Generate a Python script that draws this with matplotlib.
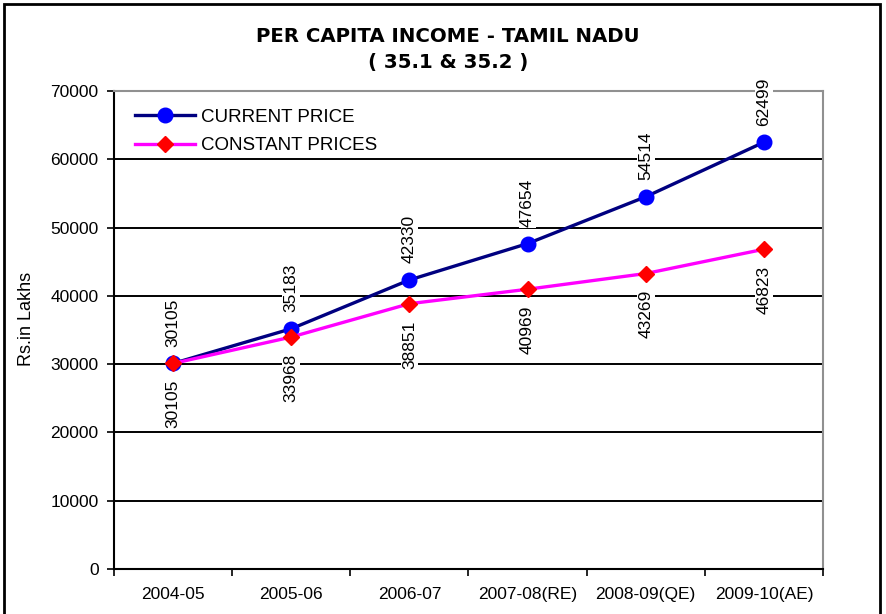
import matplotlib
matplotlib.use('Agg')
import matplotlib.pyplot as plt
from matplotlib.patches import Rectangle

years = ['2004-05', '2005-06', '2006-07', '2007-08(RE)', '2008-09(QE)', '2009-10(AE)']
current_price = [30105, 35183, 42330, 47654, 54514, 62499]
constant_prices = [30105, 33968, 38851, 40969, 43269, 46823]

plt.rcParams['font.family'] = ['Liberation Sans', 'DejaVu Sans']

fig = plt.figure(figsize=(8.87, 6.14), dpi=100)
ax = fig.add_axes([114 / 887, 45 / 614, 709 / 887, 478 / 614])

x = list(range(len(years)))
ax.plot(x, current_price, color='#000080', lw=2.4, marker='o', ms=10.5,
        mfc='#0000ff', mec='#0000ff', label='CURRENT PRICE', zorder=4)
ax.plot(x, constant_prices, color='#ff00ff', lw=2.4, marker='D', ms=8,
        mfc='#ff0000', mec='#ff0000', label='CONSTANT PRICES', zorder=5)

box = dict(facecolor='white', edgecolor='none', pad=1)
for i, v in enumerate(current_price):
    ax.annotate(str(v), (i, v), xytext=(0, 12), textcoords='offset points',
                rotation=90, ha='center', va='bottom', fontsize=12.5, bbox=box, zorder=3)
for i, v in enumerate(constant_prices):
    ax.annotate(str(v), (i, v), xytext=(0, -12), textcoords='offset points',
                rotation=90, ha='center', va='top', fontsize=12.5, bbox=box, zorder=3)

ax.set_xlim(-0.5, len(years) - 0.5)
ax.set_ylim(0, 70000)
ax.set_yticks(range(0, 70001, 10000))
ax.set_xticks([i - 0.5 for i in range(len(years) + 1)])
ax.set_xticklabels([])
ax.set_xticks(x, minor=True)
ax.set_xticklabels(years, minor=True, fontsize=12.5)
ax.tick_params(axis='x', which='minor', length=0, pad=13)
ax.tick_params(axis='x', which='major', length=5, width=1.2, direction='out')
ax.tick_params(axis='y', length=5, width=1.2, direction='out', labelsize=12.5, pad=6)

ax.grid(axis='y', color='black', lw=1.4, zorder=1)
ax.set_axisbelow(True)
for s in ['left', 'bottom']:
    ax.spines[s].set_linewidth(1.5)
    ax.spines[s].set_color('black')
for s in ['top', 'right']:
    ax.spines[s].set_linewidth(1.5)
    ax.spines[s].set_color('#909090')

ax.set_ylabel('Rs.in Lakhs', fontsize=13)
ax.yaxis.set_label_coords(-(114 - 35) / 709, (569 - 319) / 478)

ax.legend(loc='upper left', bbox_to_anchor=(21 / 709, 0.963), frameon=False,
          borderaxespad=0, borderpad=0, fontsize=13.5, handlelength=3.2,
          handletextpad=0.3, labelspacing=0.6)

title_font = dict(ha='center', va='center', fontsize=14.2, fontweight='bold',
                  family='DejaVu Sans')
fig.text(0.505, 0.94, 'PER CAPITA INCOME - TAMIL NADU', **title_font)
fig.text(0.505, 0.898, '( 35.1 & 35.2 )', **title_font)

fig.patches.append(Rectangle((4 / 887, -0.05), 876 / 887, 1.05 - 4 / 614,
                             transform=fig.transFigure, fill=False,
                             edgecolor='black', lw=2))

fig.savefig('out.png', dpi=100)
